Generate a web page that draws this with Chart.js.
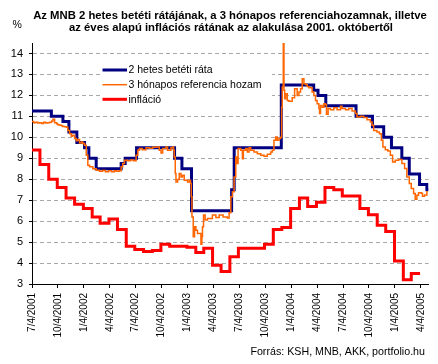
<!DOCTYPE html>
<html>
<head>
<meta charset="utf-8">
<script src="https://cdn.jsdelivr.net/npm/chart.js@4.4.1/dist/chart.umd.min.js"></script>
<style>
html,body{margin:0;padding:0;background:#fff;}
#wrap{width:438px;height:364px;}
</style>
</head>
<body>
<div id="wrap"><canvas id="c" width="438" height="364"></canvas></div>
<script>
// ---------- text ----------
const titleLines = [
  'Az MNB 2 hetes betéti rátájának, a 3 hónapos referenciahozamnak, illetve',
  'az éves alapú inflációs rátának az alakulása 2001. októbertől'
];
const unitLabel = '%';
const sourceText = 'Forrás: KSH, MNB, AKK, portfolio.hu';
const seriesNames = ['2 hetes betéti ráta', '3 hónapos referencia hozam', 'infláció'];

// ---------- axes (x = months since 2001-07-04) ----------
const xTickMonths = [0, 3, 6, 9, 12, 15, 18, 21, 24, 27, 30, 33, 36, 39, 42, 45];
const xTickLabels = ['7/4/2001', '10/4/2001', '1/4/2002', '4/4/2002', '7/4/2002', '10/4/2002',
  '1/4/2003', '4/4/2003', '7/4/2003', '10/4/2003', '1/4/2004', '4/4/2004', '7/4/2004',
  '10/4/2004', '1/4/2005', '4/4/2005'];
const yTickValues = [3, 4, 5, 6, 7, 8, 9, 10, 11, 12, 13, 14];
const yMin = 3, yMax = 14.5;
const lastDataMonth = 45.9;

// ---------- 2 hetes betéti ráta (change points) ----------
const depositMonths = [0, 2.24, 3.58, 4.27, 5.19, 6.08, 6.58, 7.43, 10.32, 10.78, 12.1, 16.5, 17.35,
  18.46, 23.1, 23.4, 28.85, 32.6, 33.1, 34.0, 37.5, 39.4, 40.7, 41.6, 42.8, 43.66, 44.85, 45.7];
const depositRates = [11.25, 11, 10.75, 10.25, 9.75, 9.5, 9, 8.5, 8.75, 9, 9.5, 9, 8.5,
  6.5, 7.5, 9.5, 12.5, 12.25, 12, 11.5, 11, 10.5, 10, 9.5, 9, 8.25, 7.75, 7.5];

// ---------- 3 hónapos referencia hozam ----------
const refMonths = [0,0.2,0.43,0.66,0.89,1.12,1.35,1.58,1.81,2.04,
  2.27,2.42,2.62,2.85,2.97,3.2,3.43,3.54,3.77,4.0,
  4.15,4.35,4.55,4.7,4.93,5.12,5.27,5.5,5.73,5.88,
  6.08,6.28,6.46,6.66,7.04,7.43,7.81,8.16,8.5,8.85,
  9.2,9.54,9.77,10.12,10.32,10.5,10.7,11.04,11.39,11.74,
  12.05,12.25,12.43,12.77,13.2,13.58,13.96,14.35,14.73,14.93,
  15.12,15.5,15.69,16.08,16.27,16.38,16.46,16.58,16.66,16.85,
  17.04,17.24,17.42,17.62,18.0,18.2,18.35,18.43,18.51,18.66,
  18.81,18.97,19.15,19.35,19.55,19.66,19.73,19.85,20.04,20.31,
  20.5,20.88,21.28,21.66,22.12,22.61,22.81,23.01,23.19,23.39,
  23.58,23.7,23.85,24.16,24.35,24.46,24.74,24.92,25.12,25.31,
  25.69,26.08,26.47,26.85,27.23,27.62,27.81,28.0,28.2,28.38,
  28.58,28.78,28.89,28.96,29.08,29.16,29.24,29.35,29.54,29.73,
  30.11,30.39,30.69,30.89,31.08,31.27,31.47,31.66,31.85,32.04,
  32.42,32.62,32.81,33.0,33.2,33.28,33.39,33.58,33.77,33.97,
  34.08,34.27,34.54,34.93,35.31,35.7,35.88,36.28,36.66,37.04,
  37.43,37.61,38.0,38.39,38.77,39.16,39.35,39.54,39.92,40.2,
  40.43,40.61,40.89,41.19,41.47,41.73,42.04,42.43,42.81,43.12,
  43.38,43.66,43.89,44.16,44.35,44.54,44.73,45.04,45.19,45.43,
  45.7];
const refYields = [10.75,10.7,10.72,10.68,10.7,10.66,10.72,10.68,10.7,10.72,
  10.78,10.86,10.7,10.65,10.6,10.57,10.55,10.52,10.5,10.48,
  10.33,10.17,10.05,10.1,9.94,9.83,9.9,9.73,9.78,9.7,
  9.62,9.14,8.67,8.59,8.5,8.43,8.38,8.42,8.36,8.4,
  8.36,8.4,8.38,8.4,8.59,8.75,8.9,8.88,8.92,8.88,
  9.14,9.38,9.46,9.41,9.5,9.48,9.52,9.54,9.38,9.25,
  9.46,9.54,9.38,9.5,9.54,9.38,9.06,8.27,7.87,7.99,
  8.27,8.11,8.19,7.95,7.87,7.95,7.8,7.16,6.2,5.25,
  5.73,5.57,5.41,5.41,4.9,5.25,5.73,6.29,6.05,6.13,
  6.13,6.29,6.17,6.29,6.2,6.15,6.4,7.16,7.4,8.11,
  9.06,8.75,9.46,9.38,8.98,9.38,9.46,9.3,9.5,9.38,
  9.3,9.22,9.14,9.1,9.19,9.3,9.38,9.86,10.01,9.86,
  9.94,10.0,11.44,12.4,14.46,12.24,11.84,12.08,11.76,11.72,
  11.89,12.32,12.0,12.16,12.32,12.8,12.56,12.52,12.43,12.37,
  12.16,12.0,11.76,11.6,11.37,11.13,11.52,11.44,11.6,11.55,
  11.1,11.37,11.32,11.41,11.32,11.48,11.37,11.32,11.37,11.25,
  11.13,10.97,11.0,10.94,10.84,10.73,10.57,10.33,10.25,10.17,
  9.86,9.54,9.41,9.35,9.14,8.82,8.9,8.94,8.75,8.51,
  8.11,7.8,7.56,7.32,7.05,7.24,7.35,7.33,7.19,7.25,
  7.44];

// ---------- infláció (monthly, from July 2001) ----------
const inflationFirstMonth = [2001, 7];
const inflation = [9.4, 8.7, 8.0, 7.6, 7.1, 6.8, 6.6, 6.2, 5.9, 6.1,
  5.6, 4.8, 4.65, 4.55, 4.6, 4.9, 4.8, 4.8, 4.75, 4.5,
  4.7, 3.9, 3.6, 4.3, 4.7, 4.7, 4.7, 4.9, 5.6, 5.7,
  6.6, 7.1, 6.7, 6.9, 7.6, 7.5, 7.2, 7.2, 6.6, 6.3,
  5.8, 5.5, 4.1, 3.2, 3.5];

// ---------- helpers ----------
const START = Date.UTC(2001, 6, 4);
const monthsSince = (t) => (t - START) / 86400000 / 30.4375;
const monthStart = (k) => monthsSince(Date.UTC(inflationFirstMonth[0], inflationFirstMonth[1] - 1 + k, 1));

const depositData = depositMonths.map((m, i) => ({x: m, y: depositRates[i]}));
depositData.push({x: lastDataMonth, y: depositRates[depositRates.length - 1]});
const refData = refMonths.map((m, i) => ({x: m, y: refYields[i]}));
const inflData = inflation.map((v, k) => ({x: monthStart(k), y: v}));
inflData.push({x: monthStart(inflation.length), y: inflation[inflation.length - 1]});

const FONT = '"Liberation Sans", Arial, sans-serif';
Chart.defaults.font.family = FONT;
Chart.defaults.color = '#000';

const decor = {
  id: 'decor',
  beforeDatasetsDraw(chart) {
    const ctx = chart.ctx;
    ctx.save();
    ctx.fillStyle = '#fff';
    ctx.fillRect(100, 61, 172, 46);
    const rows = [70, 84.7, 99.3];
    ctx.font = '10.5px ' + FONT;
    ctx.textBaseline = 'middle';
    ctx.textAlign = 'left';
    chart.data.datasets.forEach((ds, i) => {
      const y = rows[i];
      ctx.strokeStyle = ds.borderColor;
      ctx.lineWidth = ds.borderWidth;
      ctx.beginPath();
      ctx.moveTo(102.5, y);
      ctx.lineTo(127, y);
      ctx.stroke();
      ctx.fillStyle = '#000';
      ctx.fillText(ds.label, 128.5, y + 0.5);
    });
    ctx.restore();
  },
  afterDraw(chart) {
    const ctx = chart.ctx;
    ctx.save();
    ctx.fillStyle = '#000';
    ctx.textBaseline = 'alphabetic';
    ctx.font = 'bold 11.3px ' + FONT;
    ctx.textAlign = 'center';
    ctx.fillText(titleLines[0], 230, 18.5);
    ctx.fillText(titleLines[1], 231, 31);
    ctx.font = '10.5px ' + FONT;
    ctx.textAlign = 'left';
    ctx.fillText(unitLabel, 12.5, 27.5);
    ctx.font = '10.7px ' + FONT;
    ctx.textAlign = 'right';
    ctx.fillText(sourceText, 425, 355);
    ctx.restore();
  }
};

new Chart(document.getElementById('c'), {
  type: 'line',
  data: {
    datasets: [
      {label: seriesNames[0], data: depositData, borderColor: '#000080', borderWidth: 3,
       stepped: true, pointRadius: 0, fill: false, order: 1, borderJoinStyle: 'miter'},
      {label: seriesNames[1], data: refData, borderColor: '#ff6600', borderWidth: 1.5,
       stepped: true, pointRadius: 0, fill: false, order: 0, borderJoinStyle: 'miter'},
      {label: seriesNames[2], data: inflData, borderColor: '#ff0000', borderWidth: 3,
       stepped: true, pointRadius: 0, fill: false, order: 2, borderJoinStyle: 'miter'}
    ]
  },
  options: {
    responsive: false,
    animation: false,
    devicePixelRatio: 1,
    layout: {padding: {top: 43, left: 0, right: 8, bottom: 20}},
    plugins: {legend: {display: false}, title: {display: false}, tooltip: {enabled: false}},
    scales: {
      x: {
        type: 'linear', min: 0, max: lastDataMonth,
        afterBuildTicks: (s) => { s.ticks = xTickMonths.map(v => ({value: v})); },
        afterFit: (s) => { s.height = 60; },
        ticks: {
          autoSkip: false, minRotation: 90, maxRotation: 90, padding: 5,
          font: {size: 10}, color: '#000',
          callback: (v) => xTickLabels[xTickMonths.indexOf(v)]
        },
        grid: {drawOnChartArea: false, drawTicks: true, tickLength: 4, tickColor: '#000', color: '#000'},
        border: {display: true, color: '#000', width: 1}
      },
      y: {
        type: 'linear', min: yMin, max: yMax,
        afterBuildTicks: (s) => { s.ticks = yTickValues.map(v => ({value: v})); },
        afterFit: (s) => { s.width = 32; },
        ticks: {padding: 6, font: {size: 11}, color: '#000'},
        grid: {
          color: (c) => (c.tick && c.tick.value === yMin) ? 'rgba(0,0,0,0)' : '#a8a8a8',
          tickColor: '#000', tickLength: 3, lineWidth: 1
        },
        border: {display: true, color: '#000', width: 1, dash: [4, 3]}
      }
    }
  },
  plugins: [decor]
});
</script>
</body>
</html>
